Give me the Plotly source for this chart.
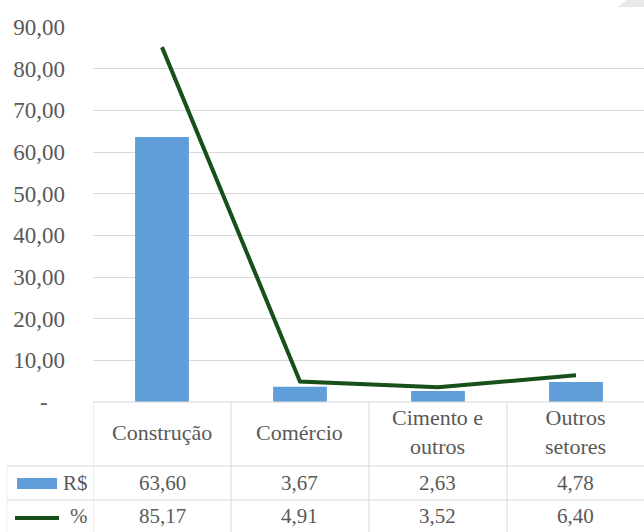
import plotly.graph_objects as go

categories = ["Construção", "Comércio", "Cimento e<br>outros", "Outros<br>setores"]
rs_values = [63.60, 3.67, 2.63, 4.78]
pct_values = [85.17, 4.91, 3.52, 6.40]
y_ticks = [0, 10, 20, 30, 40, 50, 60, 70, 80, 90]
series_names = ["R$", "%"]

BAR = "#5f9ed8"
LINE = "#17501a"
GRID = "#d9d9d9"
TXT = "#595959"
FONT = "Liberation Serif"
W, H = 644, 532
L = 93


def fmt(v):
    return f"{v:.2f}".replace(".", ",")


def py(p):
    return 1 - p / H


def px(p):
    return (p - L) / (W - L)


tick_text = [("-" + "\u00a0" * 3) if v == 0 else fmt(v) for v in y_ticks]

fig = go.Figure()
fig.add_trace(go.Bar(x=categories, y=rs_values, marker_color=BAR, name=series_names[0],
                     marker_line_width=0))
fig.add_trace(go.Scatter(x=categories, y=pct_values, mode="lines", name=series_names[1],
                         line=dict(color=LINE, width=4)))

shapes = []
shapes.append(dict(type="line", xref="paper", yref="paper", x0=px(93), x1=1, y0=py(402), y1=py(402),
                   line=dict(color=GRID, width=1)))
for yy in [466, 500]:
    shapes.append(dict(type="line", xref="paper", yref="paper", x0=px(7), x1=1, y0=py(yy), y1=py(yy),
                       line=dict(color=GRID, width=1)))
for i in range(len(categories)):
    shapes.append(dict(type="line", xref="x", yref="paper", x0=i - 0.5, x1=i - 0.5, y0=py(402), y1=0,
                       line=dict(color=GRID, width=1)))
shapes.append(dict(type="line", xref="paper", yref="paper", x0=px(7), x1=px(7), y0=py(466), y1=0,
                   line=dict(color="#eeeeee", width=1)))
shapes.append(dict(type="rect", xref="paper", yref="paper", x0=px(17), x1=px(57), y0=py(489), y1=py(478),
                   fillcolor=BAR, line=dict(width=0)))
shapes.append(dict(type="line", xref="paper", yref="paper", x0=px(15), x1=px(59), y0=py(518), y1=py(518),
                   line=dict(color=LINE, width=4)))
shapes.append(dict(type="path", xref="paper", yref="paper",
                   path=f"M {px(617)},{py(7)} L {px(627)},1 L 1,1 L 1,{py(7)} Z",
                   fillcolor="#e9e9e9", line=dict(width=0)))

ann = []


def tf(size=21):
    return dict(family=FONT, size=size, color=TXT)


for c in categories:
    ann.append(dict(x=c, xref="x", y=py(432), yref="paper", text=c, showarrow=False,
                    font=tf(22), yanchor="middle"))
for c, v in zip(categories, rs_values):
    ann.append(dict(x=c, xref="x", y=py(483), yref="paper", text=fmt(v), showarrow=False,
                    font=tf(), yanchor="middle"))
for c, v in zip(categories, pct_values):
    ann.append(dict(x=c, xref="x", y=py(516), yref="paper", text=fmt(v), showarrow=False,
                    font=tf(), yanchor="middle"))
for name, yy in zip(series_names, [483, 516]):
    ann.append(dict(x=px(90), xref="paper", y=py(yy), yref="paper", text=name, showarrow=False,
                    xanchor="right", yanchor="middle", font=tf()))

fig.update_layout(
    width=W, height=H,
    margin=dict(l=L, r=0, t=0, b=0, autoexpand=False),
    paper_bgcolor="white", plot_bgcolor="white",
    showlegend=False,
    bargap=0.61,
    shapes=shapes,
    annotations=ann,
    xaxis=dict(type="category", range=[-0.5, 3.493], showticklabels=False, showgrid=False,
               zeroline=False, showline=False, ticks=""),
    yaxis=dict(range=[0, 90], domain=[1 - 402 / H, 1 - 27 / H], tickvals=y_ticks, ticktext=tick_text,
               showgrid=True, gridcolor=GRID, gridwidth=1, zeroline=False, showline=False,
               ticks="", ticklabelstandoff=27, tickfont=tf(23)),
)

fig.write_html("out.html")
